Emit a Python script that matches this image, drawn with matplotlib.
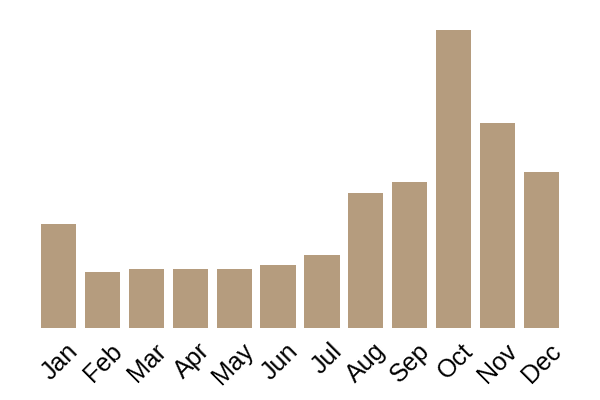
import matplotlib.pyplot as plt
from matplotlib.transforms import ScaledTranslation

months = ["Jan", "Feb", "Mar", "Apr", "May", "Jun",
          "Jul", "Aug", "Sep", "Oct", "Nov", "Dec"]
values = [104, 56, 59, 59, 59, 63, 73, 135, 146, 298, 205, 156]

plt.rcParams['font.family'] = ['Liberation Sans', 'DejaVu Sans']

fig = plt.figure(figsize=(6, 4), dpi=100)
ax = fig.add_axes([36.6 / 600, 72 / 400, 526.8 / 600, 298 / 400])

ax.bar(range(len(months)), values, width=0.8, color="#b59c7e")
ax.set_xlim(-0.5, len(months) - 0.5)
ax.set_ylim(0, max(values))

ax.set_xticks(range(len(months)))
ax.set_xticklabels(months, rotation=45, ha="right", va="center",
                   rotation_mode="anchor", fontsize=18)
ax.tick_params(axis="x", length=0, pad=14)
# nudge labels to the right like the reference
shift = ScaledTranslation(16 / 100, 0, fig.dpi_scale_trans)
for lbl in ax.get_xticklabels():
    lbl.set_transform(lbl.get_transform() + shift)
ax.set_yticks([])
for s in ax.spines.values():
    s.set_visible(False)

fig.savefig("out.png", dpi=100)
